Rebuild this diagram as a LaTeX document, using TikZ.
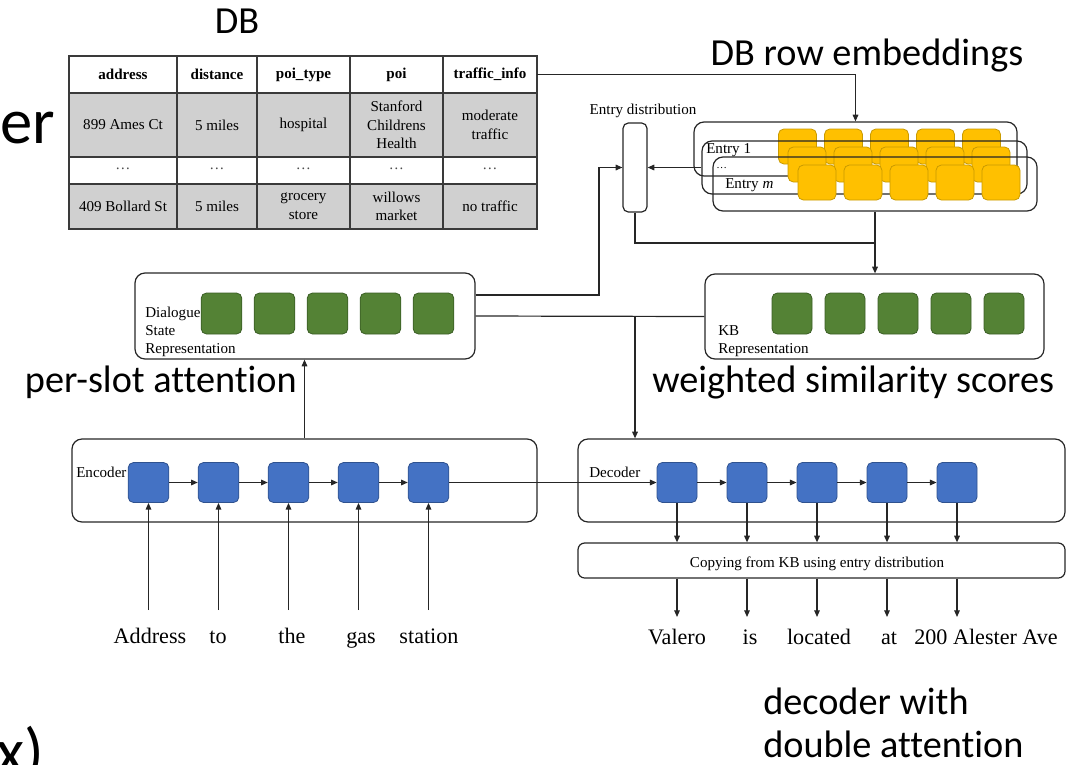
\documentclass[tikz,border=0pt]{standalone}
\usepackage{fontspec}
\setmainfont{Liberation Serif}
\newfontfamily\slidefont[Ligatures=NoCommon]{Carlito}
\usetikzlibrary{arrows.meta,fit,calc}

\definecolor{linec}{HTML}{262626}
\definecolor{tabline}{HTML}{3A3A3A}
\definecolor{cellgray}{HTML}{D0D0D0}
\definecolor{bluef}{HTML}{4472C4}
\definecolor{blued}{HTML}{2F528F}
\definecolor{greenf}{HTML}{548235}
\definecolor{greend}{HTML}{3B5E25}
\definecolor{yelf}{HTML}{FFC000}
\definecolor{yeld}{HTML}{C99A00}

\tikzset{
  frame/.style={draw=linec, line width=0.9pt, rounded corners=7.5pt, inner sep=0pt},
  smallframe/.style={draw=linec, line width=0.9pt, rounded corners=4pt, inner sep=0pt},
  cell/.style={inner sep=0pt, align=center, font=\fontsize{11.3}{14}\selectfont},
  hcell/.style={inner sep=0pt, align=center, font=\fontsize{11.3}{14}\selectfont\bfseries},
  small/.style={inner sep=0pt, font=\fontsize{11.3}{13.5}\selectfont},
  word/.style={inner sep=0pt, anchor=base, font=\fontsize{16.6}{20}\selectfont},
  slide/.style={inner sep=0pt, font=\slidefont\fontsize{28.7}{33}\selectfont},
  bigslide/.style={inner sep=0pt, font=\slidefont\fontsize{48.5}{56}\selectfont},
  blockbox/.style={rectangle, rounded corners=4pt, inner sep=0pt, line width=0.6pt},
  bluebox/.style={blockbox, fill=bluef, draw=blued, minimum width=30.5pt, minimum height=30pt},
  greenbox/.style={blockbox, fill=greenf, draw=greend, minimum width=30.5pt, minimum height=30.75pt},
  yelbox/.style={blockbox, fill=yelf, draw=yeld, minimum width=28.5pt, minimum height=26.25pt},
  conn/.style={draw=linec, line width=0.9pt},
  arr/.style={conn, -{Triangle[length=5pt,width=4.2pt]}},
}

\begin{document}
\begin{tikzpicture}[x=0.75pt,y=-0.75pt]
\useasboundingbox (0,0) rectangle (1066,764);
\clip (0,0) rectangle (1066,764);

% ---------- slide captions ----------
\node[bigslide, anchor=base east] (capL) at (55,143) {er};
\node[bigslide, anchor=base east] (capX) at (44,773) {x)};
\node[slide, anchor=base] (capdb) at (237,33) {DB};
\node[slide, anchor=base] (caprow) at (867,65) {DB row embeddings};
\node[slide, anchor=base east] (capslot) at (297,392) {per-slot attention};
\node[slide, anchor=base west] (capsim) at (652,392) {weighted similarity scores};
\node[slide, anchor=base west, align=left] (capdec1) at (763,714) {decoder with};
\node[slide, anchor=base west, align=left] (capdec2) at (763,757) {double attention};

% ---------- database table ----------
\fill[cellgray] (69,93) rectangle (537,157);
\fill[cellgray] (69,184) rectangle (537,229);
\draw[tabline, line width=0.9pt] (69,56) rectangle (537,229);
\foreach \yy in {93,157,184} \draw[tabline, line width=0.9pt] (69,\yy) -- (537,\yy);
\foreach \xx in {177,257,350,443} \draw[tabline, line width=0.9pt] (\xx,56) -- (\xx,229);
\node[fit={(69,56)(537,229)}, inner sep=0pt] (db) {};

\node[hcell] (h1) at (123,74.5) {address};
\node[hcell] (h2) at (217,74.5) {distance};
\node[hcell] (h3) at (303.5,74.5) {poi\_type};
\node[hcell] (h4) at (396.5,74.5) {poi};
\node[hcell] (h5) at (490,74.5) {traffic\_info};

\node[cell] (r11) at (123,125) {899 Ames Ct};
\node[cell] (r12) at (217,125) {5 miles};
\node[cell] (r13) at (303.5,125) {hospital};
\node[cell] (r14) at (396.5,125) {Stanford\\Childrens\\Health};
\node[cell] (r15) at (490,125) {moderate\\traffic};

\foreach \xx/\nm in {123/d1,217/d2,303.5/d3,396.5/d4,490/d5}
  \node[cell, text=black!70] (dots\nm) at (\xx,169) {…};

\node[cell] (r21) at (123,206.5) {409 Bollard St};
\node[cell] (r22) at (217,206.5) {5 miles};
\node[cell] (r23) at (303.5,206.5) {grocery\\store};
\node[cell] (r24) at (396.5,206.5) {willows\\market};
\node[cell] (r25) at (490,206.5) {no traffic};

% ---------- DB row embeddings (three stacked entries) ----------
\node[frame, fit={(694,122)(1017,176)}] (ent1) {};
\foreach \k in {0,...,4}
  \node[yelbox] (ya\k) at (797.5+46*\k,146.5) {};
\node[frame, fit={(702,141)(1027,194)}] (ent2) {};
\foreach \k in {0,...,4}
  \node[yelbox] (yb\k) at (807+46*\k,164.5) {};
\node[frame, fit={(713,157)(1037,211)}] (ent3) {};
\foreach \k in {0,...,4}
  \node[yelbox] (yc\k) at (817+46*\k,182.5) {};

\node[small, anchor=base west] (lent1) at (706,153) {Entry 1};
\node[inner sep=0pt, anchor=base west, font=\fontsize{8}{8}\selectfont] (lentd) at (716,168) {…};
\node[small, anchor=base west] (lentm) at (725,188) {Entry \textit{m}};

% ---------- entry distribution ----------
\node[smallframe, fit={(623,123)(647,212)}] (edist) {};
\node[small, anchor=base] (ledist) at (643,114) {Entry distribution};

% ---------- dialogue state and KB representations ----------
\node[frame, fit={(135,273)(475,359)}] (dsr) {};
\foreach \k in {0,...,4}
  \node[greenbox] (g\k) at (221.5+53*\k,313.5) {};
\node[small, anchor=base west, align=left] (ldsr1) at (145,317) {Dialogue};
\node[small, anchor=base west] (ldsr2) at (145,335) {State};
\node[small, anchor=base west] (ldsr3) at (145,353) {Representation};

\node[frame, fit={(705,274)(1044,359)}] (kb) {};
\foreach \k in {0,...,4}
  \node[greenbox, minimum width=30pt] (k\k) at (792+53*\k,313.5) {};
\node[small, anchor=base west] (lkb1) at (718,335) {KB};
\node[small, anchor=base west] (lkb2) at (718,353) {Representation};

% ---------- encoder ----------
\node[frame, fit={(72,439)(537,522)}] (enc) {};
\node[small, anchor=base west] (lenc) at (76,477) {Encoder};
\foreach \k in {1,...,5}
  \node[bluebox] (e\k) at (78.5+70*\k,482.5) {};

% ---------- decoder ----------
\node[frame, fit={(578,439)(1065,522)}] (dec) {};
\node[small, anchor=base west] (ldec) at (589,477) {Decoder};
\foreach \k in {1,...,5}
  \node[bluebox, minimum width=30pt] (dd\k) at (607+70*\k,482.5) {};

% ---------- copy layer ----------
\node[smallframe, rounded corners=5pt, fit={(578,543)(1065,578)}] (copy) {};
\node[small, anchor=base] (lcopy) at (817,567) {Copying from KB using entry distribution};

% ---------- input and output words ----------
\coordinate (iny) at (0,610);
\coordinate (outy) at (0,617);
\node[word] (w1) at (150,643) {Address};
\node[word] (w2) at (218,643) {to};
\node[word] (w3) at (292,643) {the};
\node[word] (w4) at (361,643) {gas};
\node[word] (w5) at (429,643) {station};

\node[word] (o1) at (677,644) {Valero};
\node[word] (o2) at (750,644) {is};
\node[word] (o3) at (819,644) {located};
\node[word] (o4) at (889,644) {at};
\node[word] (o5) at (986,644) {200 Alester Ave};

% ---------- connectors ----------
% table to row embeddings
\draw[arr] (db.east |- h5) -| (ent1.north);
% row embeddings to entry distribution
\draw[arr] (ent2.west |- edist.east) -- (edist.east);
% dialogue state to entry distribution
\coordinate (jds) at (599,295);
\draw[arr] (dsr.east |- jds) -- (jds) |- (edist.west);
% dialogue state to KB representation, branch into decoder
\draw[conn] (dsr.east) -- (kb.west);
\draw[arr] (edist.south |- dsr.east) -- (edist.south |- dec.north);
% entry distribution and row embeddings to KB representation
\coordinate (jkb) at (875,243);
\draw[conn] (edist.south) |- (jkb);
\draw[arr] (ent3.south) -- (ent3.south |- kb.north);
% encoder to dialogue state
\draw[arr] (enc.north) -- (enc.north |- dsr.south);
% recurrent chains
\foreach \a/\b in {1/2,2/3,3/4,4/5} {
  \draw[arr] (e\a) -- (e\b);
  \draw[arr] (dd\a) -- (dd\b);
}
\draw[arr] (e5) -- (dd1);
% inputs into encoder
\foreach \k in {1,...,5}
  \draw[arr] (e\k |- iny) -- (e\k.south);
% decoder to copy layer, copy layer to output words
\foreach \k in {1,...,5} {
  \draw[arr] (dd\k.south) -- (dd\k.south |- copy.north);
  \draw[arr] (dd\k.south |- copy.south) -- (dd\k.south |- outy);
}
\end{tikzpicture}
\end{document}
